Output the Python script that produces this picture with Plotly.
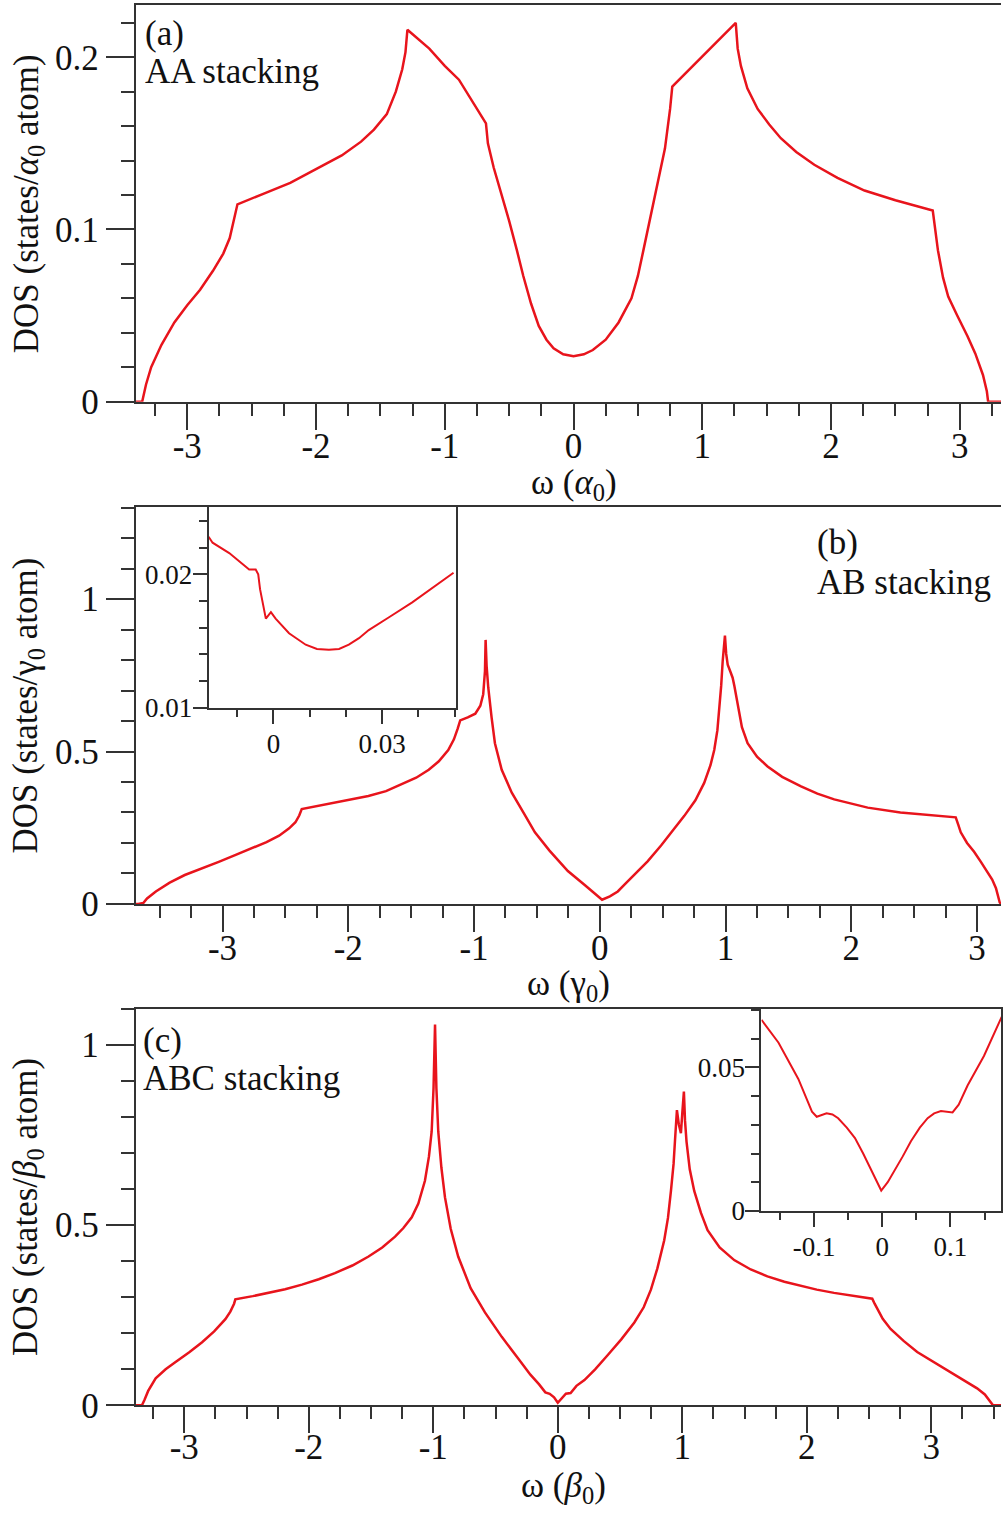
import plotly.graph_objects as go

# ---------------- data ----------------
# (a) AA stacking
w_a = [-3.40, -3.35, -3.32, -3.28, -3.20, -3.10, -3.00, -2.90, -2.80, -2.72, -2.67, -2.64, -2.61,
       -2.40, -2.20, -2.00, -1.80, -1.65, -1.55, -1.45, -1.38, -1.33, -1.305, -1.29,
       -1.12, -1.00, -0.89, -0.68, -0.665, -0.62, -0.56, -0.50, -0.44, -0.39, -0.33, -0.27, -0.21,
       -0.155, -0.08, 0.0, 0.08, 0.15, 0.25, 0.35, 0.45, 0.50, 0.543, 0.633, 0.71, 0.75, 0.767,
       1.26, 1.275, 1.30, 1.35, 1.43, 1.52, 1.61, 1.73, 1.87, 2.05, 2.26, 2.50, 2.79,
       2.81, 2.83, 2.87, 2.91, 2.98, 3.06, 3.12, 3.18, 3.21, 3.22, 3.32]
dos_a = [0.0, 0.0, 0.010, 0.020, 0.033, 0.046, 0.056, 0.065, 0.076, 0.086, 0.095, 0.104, 0.1146,
         0.121, 0.127, 0.135, 0.143, 0.151, 0.158, 0.167, 0.180, 0.193, 0.203, 0.216,
         0.205, 0.195, 0.187, 0.1616, 0.150, 0.136, 0.121, 0.105, 0.088, 0.073, 0.057, 0.044, 0.036,
         0.031, 0.0275, 0.0264, 0.0275, 0.030, 0.036, 0.046, 0.060, 0.073, 0.088, 0.119, 0.147, 0.170,
         0.183, 0.220, 0.205, 0.195, 0.182, 0.170, 0.161, 0.153, 0.145, 0.1376, 0.130, 0.1226, 0.117,
         0.111, 0.098, 0.088, 0.072, 0.061, 0.050, 0.038, 0.028, 0.0155, 0.006, 0.0, 0.0]

# (b) AB stacking
w_b = [-3.70, -3.67, -3.63, -3.60, -3.53, -3.42, -3.30, -3.15, -3.03, -2.90, -2.77, -2.65, -2.55,
       -2.47, -2.42, -2.39, -2.37, -2.20, -2.00, -1.84, -1.70, -1.575, -1.46, -1.36, -1.28, -1.205,
       -1.16, -1.13, -1.11, -1.05, -0.99, -0.95, -0.927, -0.913, -0.908, -0.900, -0.887, -0.86,
       -0.834, -0.78, -0.70, -0.60, -0.516, -0.40, -0.254, -0.12, 0.018, 0.08, 0.143, 0.20, 0.275,
       0.38, 0.487, 0.58, 0.672, 0.76, 0.83, 0.88, 0.91, 0.935, 0.95, 0.965, 0.977, 0.995, 1.005,
       1.017, 1.04, 1.056, 1.07, 1.083, 1.10, 1.13, 1.175, 1.25, 1.334, 1.45, 1.60, 1.73, 1.864,
       2.00, 2.13, 2.39, 2.60, 2.83, 2.85, 2.87, 2.92, 2.976, 3.03, 3.08, 3.12, 3.15, 3.17, 3.18, 3.19]
dos_b = [0.0, 0.0, 0.003, 0.018, 0.041, 0.070, 0.095, 0.118, 0.138, 0.160, 0.181, 0.203, 0.224,
         0.248, 0.268, 0.290, 0.311, 0.325, 0.340, 0.354, 0.370, 0.392, 0.414, 0.440, 0.468, 0.505,
         0.540, 0.575, 0.602, 0.612, 0.624, 0.650, 0.688, 0.764, 0.866, 0.780, 0.710, 0.610,
         0.527, 0.440, 0.365, 0.295, 0.235, 0.175, 0.108, 0.062, 0.014, 0.025, 0.041, 0.065, 0.095,
         0.140, 0.192, 0.240, 0.289, 0.340, 0.397, 0.455, 0.505, 0.570, 0.634, 0.715, 0.796, 0.880,
         0.820, 0.785, 0.760, 0.742, 0.715, 0.688, 0.640, 0.580, 0.527, 0.483, 0.451, 0.417, 0.386,
         0.362, 0.343, 0.328, 0.316, 0.300, 0.292, 0.284, 0.260, 0.235, 0.200, 0.171, 0.138, 0.106,
         0.080, 0.052, 0.025, 0.005, 0.0]

# (c) ABC stacking
w_c = [-3.39, -3.34, -3.32, -3.29, -3.23, -3.15, -3.07, -2.96, -2.857, -2.76, -2.67, -2.63, -2.60,
       -2.59, -2.45, -2.323, -2.19, -2.055, -1.92, -1.79, -1.65, -1.52, -1.41, -1.307, -1.24, -1.173,
       -1.12, -1.067, -1.035, -1.013, -0.998, -0.986, -0.975, -0.96, -0.935, -0.906, -0.86, -0.80,
       -0.70, -0.585, -0.45, -0.318, -0.22, -0.15, -0.10, -0.065, -0.03, 0.0, 0.03, 0.065, 0.103,
       0.15, 0.214, 0.30, 0.40, 0.51, 0.615, 0.69, 0.748, 0.80, 0.855, 0.885, 0.909, 0.93, 0.941,
       0.957, 0.972, 0.989, 1.0, 1.013, 1.022, 1.034, 1.06, 1.096, 1.15, 1.203, 1.30, 1.417, 1.55,
       1.684, 1.82, 1.951, 2.08, 2.219, 2.38, 2.526, 2.545, 2.566, 2.61, 2.673, 2.78, 2.887, 3.02,
       3.154, 3.26, 3.368, 3.43, 3.462, 3.496, 3.56]
dos_c = [0.0, 0.0, 0.015, 0.040, 0.075, 0.100, 0.120, 0.147, 0.175, 0.205, 0.239, 0.260, 0.282,
         0.294, 0.303, 0.312, 0.322, 0.335, 0.350, 0.367, 0.388, 0.413, 0.438, 0.468, 0.492, 0.522,
         0.560, 0.623, 0.690, 0.760, 0.880, 1.057, 0.880, 0.760, 0.660, 0.577, 0.490, 0.413,
         0.325, 0.258, 0.190, 0.130, 0.085, 0.058, 0.036, 0.032, 0.022, 0.007, 0.020, 0.032, 0.034,
         0.054, 0.070, 0.100, 0.139, 0.183, 0.230, 0.272, 0.321, 0.380, 0.458, 0.520, 0.595, 0.670,
         0.732, 0.819, 0.780, 0.755, 0.810, 0.871, 0.790, 0.732, 0.655, 0.595, 0.534, 0.486, 0.438,
         0.403, 0.377, 0.358, 0.343, 0.331, 0.321, 0.312, 0.304, 0.296, 0.282, 0.267, 0.240, 0.212,
         0.178, 0.148, 0.120, 0.093, 0.070, 0.047, 0.030, 0.016, 0.0, 0.0]

# inset of (b)
wi_b = [-0.0179, -0.0168, -0.0122, -0.0067, -0.0049, -0.0042, -0.0037, -0.0030, -0.0021, -0.0007,
        0.0006, 0.0043, 0.0089, 0.0120, 0.0153, 0.0181, 0.0208, 0.0236, 0.0263, 0.0320, 0.0383, 0.0497]
di_b = [0.02283, 0.02238, 0.0216, 0.02037, 0.02037, 0.0200, 0.01889, 0.01791, 0.01668, 0.01717,
        0.01668, 0.01558, 0.01472, 0.0144, 0.01435, 0.0144, 0.01472, 0.01521, 0.01582, 0.0168,
        0.0179, 0.02012]

# inset of (c)
wi_c = [-0.177, -0.152, -0.123, -0.110, -0.103, -0.096, -0.088, -0.0816, -0.073, -0.0646, -0.052,
        -0.040, -0.028, -0.016, -0.0015, 0.008, 0.018, 0.030, 0.042, 0.055, 0.0665, 0.076, 0.086,
        0.095, 0.103, 0.112, 0.125, 0.149, 0.175]
di_c = [0.0666, 0.0586, 0.046, 0.039, 0.0346, 0.0328, 0.0335, 0.034, 0.0336, 0.0323, 0.029,
        0.0254, 0.020, 0.014, 0.0071, 0.010, 0.014, 0.019, 0.0243, 0.029, 0.0323, 0.034, 0.0348,
        0.0345, 0.0343, 0.037, 0.0437, 0.054, 0.0676]

# tick labels
x_main_ticks = [-3, -2, -1, 0, 1, 2, 3]
x_main_text = ["-3", "-2", "-1", "0", "1", "2", "3"]
y_a_ticks, y_a_text = [0, 0.1, 0.2], ["0", "0.1", "0.2"]
y_bc_ticks, y_bc_text = [0, 0.5, 1], ["0", "0.5", "1"]
xi_b_ticks, xi_b_text = [0, 0.03], ["0", "0.03"]
yi_b_ticks, yi_b_text = [0.01, 0.02], ["0.01", "0.02"]
xi_c_ticks, xi_c_text = [-0.1, 0, 0.1], ["-0.1", "0", "0.1"]
yi_c_ticks, yi_c_text = [0, 0.05], ["0", "0.05"]

# ---------------- figure ----------------
W, H = 1003, 1524
FONT = "Liberation Serif"
RED = "#e8141c"
AX = "#333333"


def px(x):
    return x / W


def py(y):
    return 1 - y / H


def axis(domain, rng, tickvals, ticktext, mdtick, ticklen, mlen, size, mirror, standoff=0):
    return dict(
        domain=domain, range=rng, tickmode="array", tickvals=tickvals, ticktext=ticktext,
        ticks="outside", ticklen=ticklen, tickwidth=1.5, tickcolor=AX,
        showline=True, linecolor=AX, linewidth=2, mirror=mirror,
        showgrid=False, zeroline=False,
        tickfont=dict(family=FONT, size=size, color="#111"),
        ticklabelstandoff=standoff,
        minor=dict(tickmode="linear", tick0=0, dtick=mdtick, ticks="outside",
                   ticklen=mlen, tickwidth=1.5, tickcolor=AX),
    )


fig = go.Figure()
line = dict(color=RED, width=2.5)
fig.add_trace(go.Scatter(x=w_a, y=dos_a, mode="lines", line=line, xaxis="x", yaxis="y"))
fig.add_trace(go.Scatter(x=w_b, y=dos_b, mode="lines", line=line, xaxis="x2", yaxis="y2"))
fig.add_trace(go.Scatter(x=w_c, y=dos_c, mode="lines", line=line, xaxis="x3", yaxis="y3"))
fig.add_trace(go.Scatter(x=wi_b, y=di_b, mode="lines", line=dict(color=RED, width=2), xaxis="x4", yaxis="y4"))
fig.add_trace(go.Scatter(x=wi_c, y=di_c, mode="lines", line=dict(color=RED, width=2), xaxis="x5", yaxis="y5"))

xd = [px(136), 1.0]
dom_a = [py(407), py(5)]
dom_b = [py(916), py(514)]
dom_c = [py(1424), py(1022)]
XS = -14  # x tick label standoff (labels sit close to tick ends)

layout = dict(
    width=W, height=H, margin=dict(l=0, r=0, t=0, b=0),
    paper_bgcolor="white", plot_bgcolor="white", showlegend=False,
    xaxis=dict(axis(xd, [-3.40, 3.32], x_main_ticks, x_main_text, 0.25, 26, 12, 35, True, XS), anchor="y"),
    yaxis=dict(axis(dom_a, [0, 0.2304], y_a_ticks, y_a_text, 0.02, 28, 13, 35, False, 0), anchor="x"),
    xaxis2=dict(axis(xd, [-3.69, 3.19], x_main_ticks, x_main_text, 0.25, 26, 12, 35, True, XS), anchor="y2"),
    yaxis2=dict(axis(dom_b, [0, 1.301], y_bc_ticks, y_bc_text, 0.1, 28, 13, 35, False, 0), anchor="x2"),
    xaxis3=dict(axis(xd, [-3.39, 3.56], x_main_ticks, x_main_text, 0.25, 26, 12, 35, True, -16), anchor="y3"),
    yaxis3=dict(axis(dom_c, [0, 1.101], y_bc_ticks, y_bc_text, 0.1, 28, 13, 35, False, 0), anchor="x3"),
    xaxis4=dict(axis([px(209), px(457)], [-0.0179, 0.0504], xi_b_ticks, xi_b_text, 0.01, 14, 7, 27, True, -3), anchor="y4"),
    yaxis4=dict(axis([py(717), py(514)], [0.01, 0.02504], yi_b_ticks, yi_b_text, 0.002, 14, 8, 27, True, -5), anchor="x4"),
    xaxis5=dict(axis([px(763), 1.0], [-0.177, 0.174], xi_c_ticks, xi_c_text, 0.05, 14, 7, 27, True, -3), anchor="y5"),
    yaxis5=dict(axis([py(1227), py(1022)], [0, 0.0705], yi_c_ticks, yi_c_text, 0.01, 14, 8, 27, True, -5), anchor="x5"),
)
fig.update_layout(**layout)

ann_font = dict(family=FONT, size=35, color="#111")
annotations = [
    # panel labels
    dict(x=px(143), y=py(34), text="(a)", xanchor="left", yanchor="middle"),
    dict(x=px(143), y=py(72), text="AA stacking", xanchor="left", yanchor="middle"),
    dict(x=px(817), y=py(550), text="(b)", xanchor="left", yanchor="middle"),
    dict(x=px(817), y=py(590), text="AB stacking", xanchor="left", yanchor="middle"),
    dict(x=px(141), y=py(1054), text="(c)", xanchor="left", yanchor="middle"),
    dict(x=px(141), y=py(1093), text="ABC stacking", xanchor="left", yanchor="middle"),
    # x axis titles
    dict(x=px(575), y=py(491), text="ω (<i>α</i><sub>0</sub>)", xanchor="center", yanchor="middle"),
    dict(x=px(570), y=py(999), text="ω (γ<sub>0</sub>)", xanchor="center", yanchor="middle"),
    dict(x=px(565), y=py(1507), text="ω (<i>β</i><sub>0</sub>)", xanchor="center", yanchor="middle"),
    # y axis titles
    dict(x=px(28), y=py(206), text="DOS (states/<i>α</i><sub>0</sub> atom)", textangle=-90,
         xanchor="center", yanchor="middle"),
    dict(x=px(28), y=py(715), text="DOS (states/γ<sub>0</sub> atom)", textangle=-90,
         xanchor="center", yanchor="middle"),
    dict(x=px(28), y=py(1223), text="DOS (states/<i>β</i><sub>0</sub> atom)", textangle=-90,
         xanchor="center", yanchor="middle"),
]
for a in annotations:
    a.update(xref="paper", yref="paper", showarrow=False, font=ann_font)
fig.update_layout(annotations=annotations)

fig.write_html("out.html", config={"displayModeBar": False},
               post_script="document.body.style.margin='0px';")
